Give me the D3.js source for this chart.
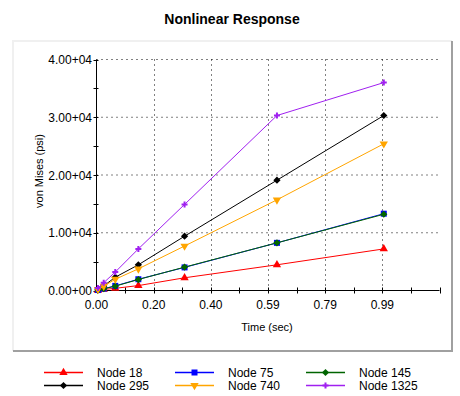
<!DOCTYPE html>
<html lang="en">
<meta charset="utf-8"/>
<head>
<script src="https://d3js.org/d3.v7.min.js"></script>
<style>
  body { margin: 0; background: #fff; }
  text { font-family: "Liberation Sans", Arial, sans-serif; fill: #000; }
</style>
</head>
<body>
<svg id="chart" width="460" height="396"></svg>
<script>
// data
let times = [0.005, 0.025, 0.065, 0.145, 0.305, 0.625, 0.995]
let node18 = [40, 180, 380, 850, 2200, 4450, 7200]
let node75 = [80, 320, 800, 1950, 4000, 8250, 13300]
let node145 = [80, 300, 750, 1900, 4050, 8250, 13200]
let node295 = [250, 800, 2300, 4450, 9400, 19100, 30300]
let node740 = [200, 750, 1950, 3750, 7700, 15700, 25400]
let node1325 = [450, 1350, 3200, 7200, 14900, 30300, 36000]

let seriesNames = ["Node 18", "Node 75", "Node 145", "Node 295", "Node 740", "Node 1325"]
let seriesColors = ["#ff0000", "#0000ff", "#006400", "#000000", "#ffa500", "#a020f0"]
let xTickLabels = ["0.00", "0.20", "0.40", "0.59", "0.79", "0.99"]
let yTickLabels = ["0.00+00", "1.00+04", "2.00+04", "3.00+04", "4.00+04"]

let svg = d3.select("#chart")
let width = 460, height = 396

// panel bevel
svg.append("rect").attr("x", 12).attr("y", 40).attr("width", 441).attr("height", 312).attr("fill", "#fff")
svg.append("path").attr("d", "M13,351V41H452").attr("fill", "none").attr("stroke", "#f0f0f0").attr("stroke-width", 2)
svg.append("path").attr("d", "M13,351H452V41").attr("fill", "none").attr("stroke", "#a0a0a0").attr("stroke-width", 2)

svg.append("text").attr("x", 232).attr("y", 24).attr("text-anchor", "middle")
   .attr("font-size", 14).attr("font-weight", "bold").text("Nonlinear Response")

let x = d3.scaleLinear().domain([0, 1.188]).range([96.5, 439.5])
let y = d3.scaleLinear().domain([0, 40000]).range([290.5, 59.5])

let majorX = d3.range(0, 6).map(i => i * 0.198)
let minorX = d3.range(0, 13).map(i => i * 0.099)
let majorY = d3.range(0, 5).map(i => i * 10000)
let minorY = d3.range(0, 9).map(i => i * 5000)

let grid = svg.append("g").attr("stroke", "#000").attr("stroke-dasharray", "1,4")
grid.selectAll("line.h").data(majorY.slice(1)).enter().append("line")
  .attr("x1", x(0)).attr("x2", x(1.188)).attr("y1", d => y(d)).attr("y2", d => y(d))
grid.selectAll("line.v").data(majorX.slice(1)).enter().append("line")
  .attr("x1", d => Math.round(x(d)) + 0.5).attr("x2", d => Math.round(x(d)) + 0.5)
  .attr("y1", y(0)).attr("y2", y(40000))

// axes
let ax = svg.append("g").attr("stroke", "#000")
ax.append("line").attr("x1", x(0)).attr("x2", x(0)).attr("y1", y(0)).attr("y2", y(40000))
ax.append("line").attr("x1", x(0)).attr("x2", x(1.188)).attr("y1", y(0)).attr("y2", y(0))
ax.selectAll("line.tx").data(minorX).enter().append("line")
  .attr("x1", d => Math.round(x(d)) + 0.5).attr("x2", d => Math.round(x(d)) + 0.5)
  .attr("y1", y(0) - 3).attr("y2", y(0) + 3)
ax.selectAll("line.ty").data(minorY).enter().append("line")
  .attr("x1", x(0) - 3).attr("x2", x(0) + 2).attr("y1", d => Math.round(y(d)) + 0.5).attr("y2", d => Math.round(y(d)) + 0.5)

svg.selectAll("text.xl").data(majorX).enter().append("text")
  .attr("x", d => x(d)).attr("y", 309).attr("text-anchor", "middle").attr("font-size", 12)
  .text((d, i) => xTickLabels[i])
svg.selectAll("text.yl").data(majorY).enter().append("text")
  .attr("x", 92).attr("y", d => y(d) + 4.5).attr("text-anchor", "end").attr("font-size", 12)
  .text((d, i) => yTickLabels[i])

svg.append("text").attr("x", 267).attr("y", 331).attr("text-anchor", "middle").attr("font-size", 11).text("Time (sec)")
svg.append("text").attr("transform", "translate(43,171) rotate(-90)").attr("text-anchor", "middle")
   .attr("font-size", 11).text("von Mises (psi)")

// series
let allSeries = [node18, node75, node145, node295, node740, node1325]
let symbols = [
  d3.symbol().type(d3.symbolTriangle).size(30),
  d3.symbol().type(d3.symbolSquare).size(36),
  d3.symbol().type(d3.symbolSquare).size(26),
  d3.symbol().type(d3.symbolSquare).size(26),
  d3.symbol().type(d3.symbolTriangle).size(30),
  d3.symbol().type(d3.symbolCross).size(20)
]
let rot = [0, 0, 45, 45, 180, 0]

let line = d3.line().x(d => x(d[0])).y(d => y(d[1]))
allSeries.forEach(function(vals, k) {
  let pts = times.map((t, i) => [t, vals[i]])
  let g = svg.append("g")
  g.append("path").datum(pts).attr("d", line).attr("fill", "none")
   .attr("stroke", seriesColors[k]).attr("stroke-width", 1)
  g.selectAll("path.m").data(pts).enter().append("path")
   .attr("d", symbols[k]).attr("fill", seriesColors[k])
   .attr("transform", d => "translate(" + x(d[0]) + "," + y(d[1]) + ") rotate(" + rot[k] + ")")
})

// legend
let legX = [44, 175, 306]
let legY = [372.5, 385.5]
seriesNames.forEach(function(name, k) {
  let cx = legX[k % 3], cy = legY[Math.floor(k / 3)]
  svg.append("line").attr("x1", cx).attr("x2", cx + 39).attr("y1", cy).attr("y2", cy)
     .attr("stroke", seriesColors[k]).attr("stroke-width", 1.3)
  svg.append("path").attr("d", symbols[k]).attr("fill", seriesColors[k])
     .attr("transform", "translate(" + (cx + 19.5) + "," + cy + ") rotate(" + rot[k] + ")")
  svg.append("text").attr("x", cx + 53).attr("y", cy + 4.5).attr("font-size", 12).text(name)
})
</script>
</body>
</html>
